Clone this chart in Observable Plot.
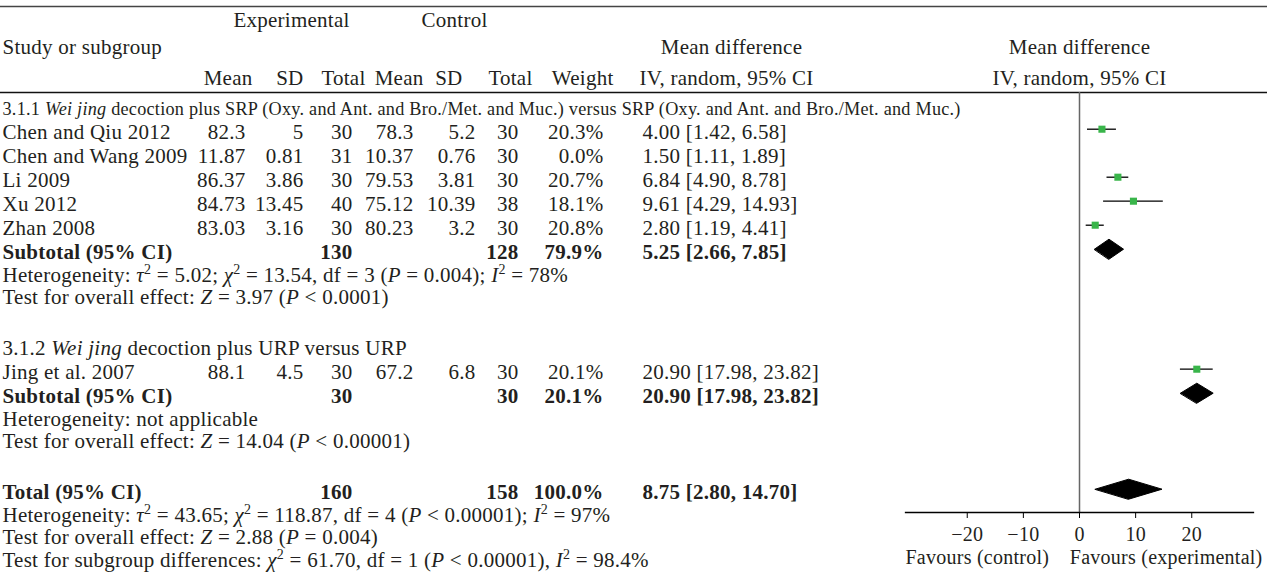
<!DOCTYPE html>
<html>
<head>
<meta charset="utf-8">
<script src="https://cdn.jsdelivr.net/npm/d3@7"></script>
<script src="https://cdn.jsdelivr.net/npm/@observablehq/plot@0.6"></script>
<style>
  html, body { margin: 0; padding: 0; background: #fff; }
</style>
</head>
<body>
<div id="chart"></div>
<script>
// ---------------- data ----------------
const studies   = ["Chen and Qiu 2012", "Chen and Wang 2009", "Li 2009", "Xu 2012", "Zhan 2008", "Jing et al. 2007"];
const subgroups = ["3.1.1", "3.1.1", "3.1.1", "3.1.1", "3.1.1", "3.1.2"];
const expMean   = ["82.3", "11.87", "86.37", "84.73", "83.03", "88.1"];
const expSD     = ["5", "0.81", "3.86", "13.45", "3.16", "4.5"];
const expTotal  = [30, 31, 30, 40, 30, 30];
const ctrlMean  = ["78.3", "10.37", "79.53", "75.12", "80.23", "67.2"];
const ctrlSD    = ["5.2", "0.76", "3.81", "10.39", "3.2", "6.8"];
const ctrlTotal = [30, 30, 30, 38, 30, 30];
const weights   = [20.3, 0.0, 20.7, 18.1, 20.8, 20.1];
const md        = [4.00, 1.50, 6.84, 9.61, 2.80, 20.90];
const ciLow     = [1.42, 1.11, 4.90, 4.29, 1.19, 17.98];
const ciHigh    = [6.58, 1.89, 8.78, 14.93, 4.41, 23.82];

const pooledLabels    = ["Subtotal (95% CI)", "Subtotal (95% CI)", "Total (95% CI)"];
const pooledGroup     = ["3.1.1", "3.1.2", "total"];
const pooledExpTotal  = [130, 30, 160];
const pooledCtrlTotal = [128, 30, 158];
const pooledWeight    = [79.9, 20.1, 100.0];
const pooledMD        = [5.25, 20.90, 8.75];
const pooledLow       = [2.66, 17.98, 2.80];
const pooledHigh      = [7.85, 23.82, 14.70];

const groupHeadings = {
  "3.1.1": "3.1.1 _Wei jing_ decoction plus SRP (Oxy. and Ant. and Bro./Met. and Muc.) versus SRP (Oxy. and Ant. and Bro./Met. and Muc.)",
  "3.1.2": "3.1.2 _Wei jing_ decoction plus URP versus URP"
};
const groupNotes = {
  "3.1.1": ["Heterogeneity: _τ_^2^ = 5.02; _χ_^2^ = 13.54, df = 3 (_P_ = 0.004); _I_^2^ = 78%",
            "Test for overall effect: _Z_ = 3.97 (_P_ < 0.0001)"],
  "3.1.2": ["Heterogeneity: not applicable",
            "Test for overall effect: _Z_ = 14.04 (_P_ < 0.00001)"],
  "total": ["Heterogeneity: _τ_^2^ = 43.65; _χ_^2^ = 118.87, df = 4 (_P_ < 0.00001); _I_^2^ = 97%",
            "Test for overall effect: _Z_ = 2.88 (_P_ = 0.004)",
            "Test for subgroup differences: _χ_^2^ = 61.70, df = 1 (_P_ < 0.00001), _I_^2^ = 98.4%"]
};
const xTicks = [-20, -10, 0, 10, 20];
const xDomain = [-31, 31];
const favours = ["Favours (control)", "Favours (experimental)"];

// ---------------- layout ----------------
const W = 1267, H = 581;
const ML = 905, MR = 14, MT = 92, MB = 69;
const FS = 21;
const INK = "#231f20";
const GREEN = "#39b54a";
const ROW = 24, NOTE = 22.5, GAP = 51;

// Build rows (y = text baseline)
const rows = [];
const pooled = [];
const notes = [];
let y = 138.7 - ROW;
for (const g of ["3.1.1", "3.1.2", "total"]) {
  if (g !== "total") {
    notes.push({text: groupHeadings[g], y, size: g === "3.1.1" ? 18.2 : FS});
    y += ROW;
    studies.forEach((s, i) => {
      if (subgroups[i] !== g) return;
      rows.push({study: s, eM: expMean[i], eSD: expSD[i], eT: expTotal[i], cM: ctrlMean[i], cSD: ctrlSD[i], cT: ctrlTotal[i],
                 w: weights[i], md: md[i], lo: ciLow[i], hi: ciHigh[i], y});
      y += ROW;
    });
  }
  const p = pooledGroup.indexOf(g);
  pooled.push({label: pooledLabels[p], eT: pooledExpTotal[p], cT: pooledCtrlTotal[p], w: pooledWeight[p],
               md: pooledMD[p], lo: pooledLow[p], hi: pooledHigh[p], y});
  for (const n of groupNotes[g]) { y += NOTE; notes.push({text: n, y, size: FS}); }
  y += GAP;
}

const ciText = d => `${d.md.toFixed(2)} [${d.lo.toFixed(2)}, ${d.hi.toFixed(2)}]`;
const wText = d => `${d.w.toFixed(1)}%`;

// diamonds
const DH = 10;
const diamondPts = pooled.flatMap((d, i) => {
  const c = d.y - 10;
  return [{id: i, x: d.lo, y: c}, {id: i, x: d.md, y: c - DH}, {id: i, x: d.hi, y: c}, {id: i, x: d.md, y: c + DH}];
});

function col(data, px, text, anchor, extra = {}) {
  return Plot.text(data, {
    frameAnchor: "left", dx: px - ML, y: "y", text, textAnchor: anchor, lineAnchor: "bottom",
    fontSize: FS, fill: INK, ...extra
  });
}

const headers = [
  {t: "Experimental", x: 291, y: 26, a: "middle"},
  {t: "Control", x: 454, y: 26, a: "middle"},
  {t: "Study or subgroup", x: 2, y: 53.5, a: "start"},
  {t: "Mean difference", x: 731, y: 53.5, a: "middle"},
  {t: "Mean", x: 252, y: 84, a: "end"},
  {t: "SD", x: 303, y: 84, a: "end"},
  {t: "Total", x: 365, y: 84, a: "end"},
  {t: "Mean", x: 423, y: 84, a: "end"},
  {t: "SD", x: 462, y: 84, a: "end"},
  {t: "Total", x: 532, y: 84, a: "end"},
  {t: "Weight", x: 613, y: 84, a: "end"},
  {t: "IV, random, 95% CI", x: 726, y: 84, a: "middle"}
];

const chart = Plot.plot({
  width: W, height: H,
  marginLeft: ML, marginRight: MR, marginTop: MT, marginBottom: MB,
  style: {fontFamily: "'Liberation Serif', 'Times New Roman', serif", fontSize: FS + "px", color: INK,
          background: "#fff", letterSpacing: "0.25px"},
  x: {domain: xDomain, axis: null},
  y: {type: "identity", axis: null},
  marks: [
    Plot.ruleY([6], {y: d => d, insetLeft: -ML, insetRight: -MR, stroke: "#444", strokeWidth: 1.5}),
    Plot.ruleY([92], {y: d => d, insetLeft: -ML, insetRight: -MR, stroke: "#111", strokeWidth: 1.3}),
    Plot.ruleX([0], {stroke: "#666", strokeWidth: 1.5}),
    Plot.frame({anchor: "bottom", stroke: "#000", strokeWidth: 1.3}),
    Plot.axisX({ticks: xTicks, tickSize: 6, tickPadding: 8, fontSize: 20, fill: INK, stroke: "#000"}),
    Plot.ruleY(rows.filter(d => d.w > 0), {y: d => d.y - 10, x1: "lo", x2: "hi", stroke: "#000", strokeWidth: 1.3}),
    Plot.dot(rows.filter(d => d.w > 0), {x: "md", y: d => d.y - 10, symbol: "square", r: 4, fill: GREEN, stroke: "none"}),
    Plot.line(diamondPts, {x: "x", y: "y", z: "id", curve: "linear-closed", fill: "#000", stroke: "#000", strokeWidth: 1}),
    ...headers.map(h => Plot.text([h], {frameAnchor: "left", dx: h.x - ML, y: "y", text: "t", textAnchor: h.a,
                                          lineAnchor: "bottom", fontSize: FS, fill: INK})),
    Plot.text(["Mean difference"], {frameAnchor: "middle", y: () => 53.5, text: d => d, lineAnchor: "bottom", fontSize: FS, fill: INK}),
    Plot.text(["IV, random, 95% CI"], {frameAnchor: "middle", y: () => 84, text: d => d, lineAnchor: "bottom", fontSize: FS, fill: INK}),
    col(rows, 2, "study", "start"),
    col(rows, 245, "eM", "end"),
    col(rows, 303, "eSD", "end"),
    col(rows, 352, "eT", "end"),
    col(rows, 413, "cM", "end"),
    col(rows, 475, "cSD", "end"),
    col(rows, 518, "cT", "end"),
    col(rows, 603, wText, "end"),
    col(rows, 642, ciText, "start"),
    col(pooled, 2, "label", "start", {fontWeight: "bold"}),
    col(pooled, 352, "eT", "end", {fontWeight: "bold"}),
    col(pooled, 518, "cT", "end", {fontWeight: "bold"}),
    col(pooled, 603, wText, "end", {fontWeight: "bold"}),
    col(pooled, 642, ciText, "start", {fontWeight: "bold"}),
    Plot.text(notes, {frameAnchor: "left", dx: 2 - ML, y: "y", text: "text", textAnchor: "start", lineAnchor: "bottom",
                      fontSize: d => d.size, fill: INK}),
    Plot.text([favours[0]], {frameAnchor: "left", y: () => 563, text: d => d, textAnchor: "start", lineAnchor: "bottom", fontSize: 20, fill: INK}),
    Plot.text([favours[1]], {frameAnchor: "right", dx: 9, y: () => 563, text: d => d, textAnchor: "end", lineAnchor: "bottom", fontSize: 20, fill: INK})
  ]
});

// rich text: _italic_ and ^superscript^
function richify(svg) {
  const NS = "http://www.w3.org/2000/svg";
  svg.querySelectorAll("text").forEach(t => {
    const s = t.textContent;
    if (!/[_^]/.test(s)) return;
    while (t.firstChild) t.removeChild(t.firstChild);
    const parts = s.split(/(_[^_]+_|\^[^^]+\^)/g).filter(p => p);
    let raised = false;
    for (const p of parts) {
      const ts = document.createElementNS(NS, "tspan");
      if (p.length > 1 && p[0] === "_" && p[p.length - 1] === "_") {
        ts.setAttribute("font-style", "italic");
        ts.textContent = p.slice(1, -1);
        if (raised) { ts.setAttribute("dy", "8"); raised = false; }
      } else if (p.length > 1 && p[0] === "^" && p[p.length - 1] === "^") {
        ts.setAttribute("font-size", "14");
        ts.setAttribute("dy", "-8");
        ts.textContent = p.slice(1, -1);
        raised = true;
      } else {
        ts.textContent = p;
        if (raised) { ts.setAttribute("dy", "8"); raised = false; }
      }
      t.appendChild(ts);
    }
  });
}
richify(chart);
document.getElementById("chart").appendChild(chart);
</script>
</body>
</html>
